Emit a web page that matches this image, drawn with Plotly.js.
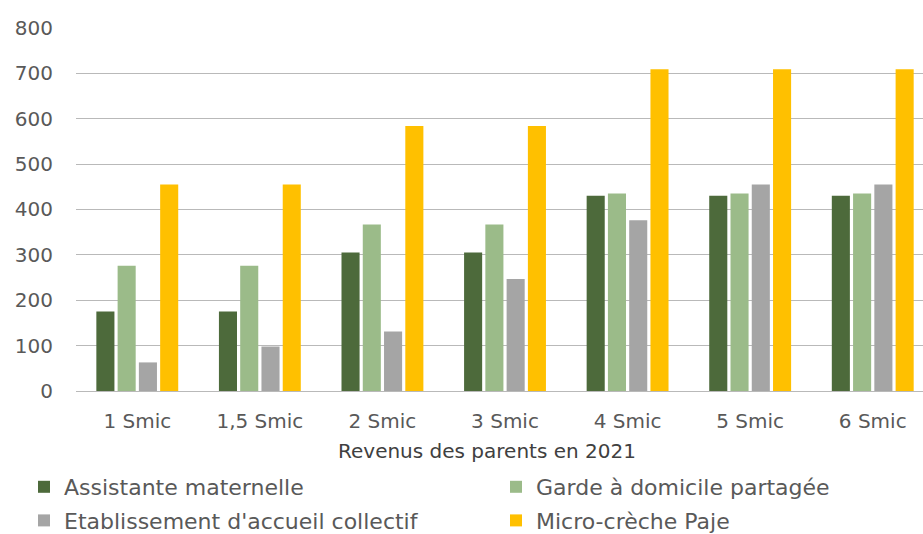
<!DOCTYPE html>
<html>
<head>
<meta charset="utf-8">
<script src="https://cdn.plot.ly/plotly-3.0.1.min.js"></script>
<style>
  html, body { margin: 0; padding: 0; background: #ffffff; }
  #chart { width: 923px; height: 534px; }
</style>
</head>
<body>
<div id="chart"></div>
<script>
// Revenus des parents (multiples du Smic)
const categories = ["1 Smic", "1,5 Smic", "2 Smic", "3 Smic", "4 Smic", "5 Smic", "6 Smic"];

// Reste à charge mensuel par mode de garde
const assistanteMaternelle = [175, 175, 305, 305, 430, 430, 430];
const gardeDomicilePartagee = [276, 276, 367, 367, 435, 435, 435];
const etablissementCollectif = [63, 98, 131, 247, 376, 455, 455];
const microCrechePaje = [455, 455, 584, 584, 709, 709, 709];

const seriesNames = [
  "Assistante maternelle",
  "Garde à domicile partagée",
  "Etablissement d'accueil collectif",
  "Micro-crèche Paje"
];
const seriesValues = [assistanteMaternelle, gardeDomicilePartagee, etablissementCollectif, microCrechePaje];
const seriesColors = ["#4d6a3b", "#9bbb89", "#a5a5a5", "#ffc000"];
// legend laid out in two columns: left column = series 0 and 2, right column = series 1 and 3
const seriesLegend = ["legend", "legend2", "legend", "legend2"];

const yTicks = [0, 100, 200, 300, 400, 500, 600, 700, 800];
const xTitle = "Revenus des parents en 2021";

const FONT = "DejaVu Sans";

const traces = seriesNames.map((name, i) => ({
  type: "bar",
  name: name,
  x: categories,
  y: seriesValues[i],
  legend: seriesLegend[i],
  legendgroup: "g" + i,
  marker: { color: seriesColors[i], line: { width: 0 } },
  hoverinfo: "x+y+name"
}));

const legendBase = {
  orientation: "v",
  xref: "container",
  yref: "container",
  xanchor: "left",
  yanchor: "top",
  y: 1 - 466 / 534,
  tracegroupgap: 2,
  font: { family: FONT, size: 22, color: "#595959" },
  bgcolor: "rgba(0,0,0,0)",
  traceorder: "grouped"
};

const layout = {
  width: 923,
  height: 534,
  paper_bgcolor: "#ffffff",
  plot_bgcolor: "#ffffff",
  margin: { l: 76, r: 0, t: 27, b: 143, pad: 0, autoexpand: false },
  barmode: "group",
  bargap: 0.306,
  bargroupgap: 0.15,
  font: { family: FONT, color: "#595959", size: 20 },
  xaxis: {
    type: "category",
    range: [-0.5, 6.41],
    showgrid: false,
    showline: false,
    zeroline: false,
    ticks: "",
    tickfont: { family: FONT, size: 20, color: "#595959" },
    ticklabelstandoff: 16
  },
  yaxis: {
    range: [0, 802],
    tickvals: yTicks,
    ticktext: yTicks.map(String),
    showgrid: true,
    gridcolor: "#b9b9b9",
    gridwidth: 1,
    zeroline: true,
    zerolinecolor: "#b9b9b9",
    zerolinewidth: 1,
    showline: false,
    ticks: "",
    tickfont: { family: FONT, size: 20, color: "#595959" },
    ticklabelstandoff: 22
  },
  annotations: [{
    text: xTitle,
    xref: "paper",
    yref: "paper",
    x: (487 - 76) / 847,
    y: -(451 - 391) / 364,
    xanchor: "center",
    yanchor: "middle",
    showarrow: false,
    font: { family: FONT, size: 20, color: "#404040" }
  }],
  showlegend: true,
  legend: Object.assign({}, legendBase, { x: 24 / 923 }),
  legend2: Object.assign({}, legendBase, { x: 496 / 923 })
};

Plotly.newPlot("chart", traces, layout, { displayModeBar: false, staticPlot: true });
</script>
</body>
</html>
